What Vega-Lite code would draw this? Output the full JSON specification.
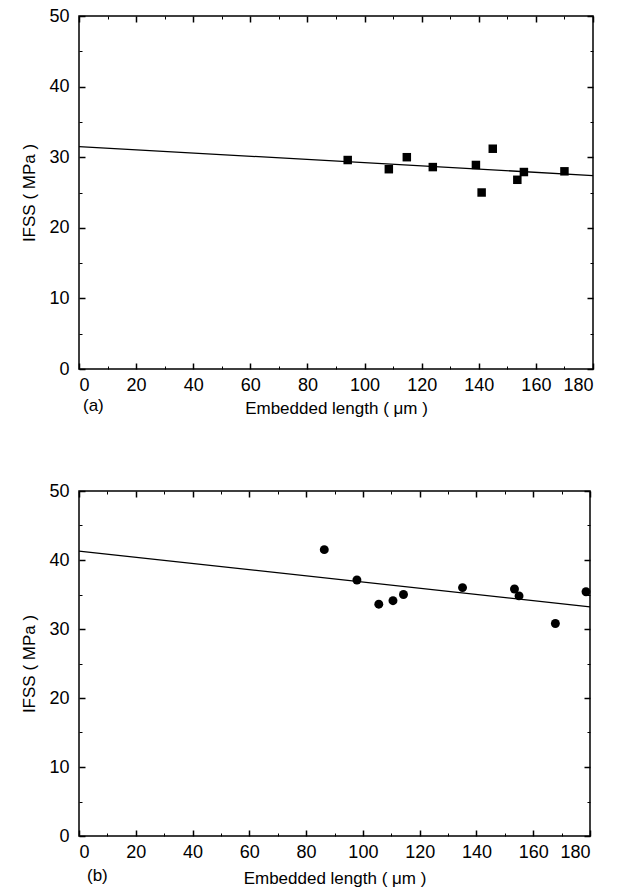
{
  "$schema": "https://vega.github.io/schema/vega-lite/v6.json",
  "padding": {"left": 20, "top": 6, "right": 20, "bottom": 3},
  "spacing": 64,
  "config": {
    "font": "Liberation Sans",
    "view": {"stroke": "black", "strokeWidth": 1.5},
    "axis": {"grid": false, "domain": false, "tickColor": "black", "labelColor": "black", "titleColor": "black", "labelFontSize": 18, "titleFontSize": 17, "titleFontWeight": "normal", "labelFont": "Liberation Sans", "titleFont": "Liberation Sans"},
    "title": {"font": "Liberation Sans", "fontSize": 17, "fontWeight": "normal", "color": "black"}
  },
  "datasets": {
    "a_points": [
      {"length": 94.1, "ifss": 29.6},
      {"length": 108.5, "ifss": 28.3},
      {"length": 114.8, "ifss": 30.0},
      {"length": 123.9, "ifss": 28.6},
      {"length": 139.0, "ifss": 28.9},
      {"length": 141.0, "ifss": 25.0},
      {"length": 144.9, "ifss": 31.2},
      {"length": 153.5, "ifss": 26.8},
      {"length": 155.8, "ifss": 27.9},
      {"length": 170.0, "ifss": 28.0}
    ],
    "a_fit": [
      {"length": 0, "ifss": 31.5},
      {"length": 180, "ifss": 27.4}
    ],
    "b_points": [
      {"length": 86.4, "ifss": 41.5},
      {"length": 97.9, "ifss": 37.1},
      {"length": 105.6, "ifss": 33.6},
      {"length": 110.6, "ifss": 34.1},
      {"length": 114.3, "ifss": 35.0},
      {"length": 135.1, "ifss": 36.0},
      {"length": 153.4, "ifss": 35.8},
      {"length": 155.0, "ifss": 34.8},
      {"length": 167.8, "ifss": 30.8},
      {"length": 178.6, "ifss": 35.4}
    ],
    "b_fit": [
      {"length": 0, "ifss": 41.3},
      {"length": 180, "ifss": 33.2}
    ]
  },
  "vconcat": [
    {
      "width": 514,
      "height": 353,
      "title": {"text": "(a)", "orient": "bottom", "anchor": "start", "offset": -18, "dx": 62},
      "resolve": {"axis": {"x": "independent", "y": "independent"}},
      "layer": [
        {
          "data": {"name": "a_points"},
          "mark": {"type": "square", "filled": true, "color": "black", "size": 72, "opacity": 1},
          "encoding": {
            "x": {"field": "length", "type": "quantitative", "scale": {"domain": [0, 180], "nice": false, "zero": false},
              "axis": {"orient": "bottom", "values": [0, 20, 40, 60, 80, 100, 120, 140, 160, 180], "tickSize": -6, "tickWidth": 1.5, "labelPadding": 13, "title": "Embedded length ( μm )", "titlePadding": 6}},
            "y": {"field": "ifss", "type": "quantitative", "scale": {"domain": [0, 50], "nice": false},
              "axis": {"orient": "left", "values": [0, 10, 20, 30, 40, 50], "tickSize": -6, "tickWidth": 1.5, "labelPadding": 16, "title": "IFSS ( MPa )", "titlePadding": 10}}
          }
        },
        {
          "data": {"name": "a_fit"},
          "mark": {"type": "line", "color": "black", "strokeWidth": 1.3},
          "encoding": {
            "x": {"field": "length", "type": "quantitative", "scale": {"domain": [0, 180], "nice": false, "zero": false},
              "axis": {"orient": "top", "values": [0, 20, 40, 60, 80, 100, 120, 140, 160, 180], "tickSize": -6, "tickWidth": 1.5, "labels": false, "title": null}},
            "y": {"field": "ifss", "type": "quantitative", "scale": {"domain": [0, 50], "nice": false},
              "axis": {"orient": "right", "values": [0, 10, 20, 30, 40, 50], "tickSize": -6, "tickWidth": 1.5, "labels": false, "title": null}}
          }
        },
        {
          "data": {"name": "a_points"},
          "mark": {"type": "point", "opacity": 0},
          "encoding": {
            "x": {"field": "length", "type": "quantitative", "scale": {"domain": [0, 180], "nice": false, "zero": false},
              "axis": {"orient": "bottom", "values": [10, 30, 50, 70, 90, 110, 130, 150, 170], "tickSize": -3, "tickWidth": 1, "labels": false, "title": null}},
            "y": {"field": "ifss", "type": "quantitative", "scale": {"domain": [0, 50], "nice": false},
              "axis": {"orient": "left", "values": [5, 15, 25, 35, 45], "tickSize": -3, "tickWidth": 1, "labels": false, "title": null}}
          }
        },
        {
          "data": {"name": "a_points"},
          "mark": {"type": "point", "opacity": 0},
          "encoding": {
            "x": {"field": "length", "type": "quantitative", "scale": {"domain": [0, 180], "nice": false, "zero": false},
              "axis": {"orient": "top", "values": [10, 30, 50, 70, 90, 110, 130, 150, 170], "tickSize": -3, "tickWidth": 1, "labels": false, "title": null}},
            "y": {"field": "ifss", "type": "quantitative", "scale": {"domain": [0, 50], "nice": false},
              "axis": {"orient": "right", "values": [5, 15, 25, 35, 45], "tickSize": -3, "tickWidth": 1, "labels": false, "title": null}}
          }
        }
      ]
    },
    {
      "width": 511,
      "height": 345,
      "title": {"text": "(b)", "orient": "bottom", "anchor": "start", "offset": -18, "dx": 66},
      "resolve": {"axis": {"x": "independent", "y": "independent"}},
      "layer": [
        {
          "data": {"name": "b_points"},
          "mark": {"type": "circle", "color": "black", "size": 80, "opacity": 1},
          "encoding": {
            "x": {"field": "length", "type": "quantitative", "scale": {"domain": [0, 180], "nice": false, "zero": false},
              "axis": {"orient": "bottom", "values": [0, 20, 40, 60, 80, 100, 120, 140, 160, 180], "tickSize": -6, "tickWidth": 1.5, "labelPadding": 13, "title": "Embedded length ( μm )", "titlePadding": 9}},
            "y": {"field": "ifss", "type": "quantitative", "scale": {"domain": [0, 50], "nice": false},
              "axis": {"orient": "left", "values": [0, 10, 20, 30, 40, 50], "tickSize": -6, "tickWidth": 1.5, "labelPadding": 16, "title": "IFSS ( MPa )", "titlePadding": 10}}
          }
        },
        {
          "data": {"name": "b_fit"},
          "mark": {"type": "line", "color": "black", "strokeWidth": 1.3},
          "encoding": {
            "x": {"field": "length", "type": "quantitative", "scale": {"domain": [0, 180], "nice": false, "zero": false},
              "axis": {"orient": "top", "values": [0, 20, 40, 60, 80, 100, 120, 140, 160, 180], "tickSize": -6, "tickWidth": 1.5, "labels": false, "title": null}},
            "y": {"field": "ifss", "type": "quantitative", "scale": {"domain": [0, 50], "nice": false},
              "axis": {"orient": "right", "values": [0, 10, 20, 30, 40, 50], "tickSize": -6, "tickWidth": 1.5, "labels": false, "title": null}}
          }
        },
        {
          "data": {"name": "b_points"},
          "mark": {"type": "point", "opacity": 0},
          "encoding": {
            "x": {"field": "length", "type": "quantitative", "scale": {"domain": [0, 180], "nice": false, "zero": false},
              "axis": {"orient": "bottom", "values": [10, 30, 50, 70, 90, 110, 130, 150, 170], "tickSize": -3, "tickWidth": 1, "labels": false, "title": null}},
            "y": {"field": "ifss", "type": "quantitative", "scale": {"domain": [0, 50], "nice": false},
              "axis": {"orient": "left", "values": [5, 15, 25, 35, 45], "tickSize": -3, "tickWidth": 1, "labels": false, "title": null}}
          }
        },
        {
          "data": {"name": "b_points"},
          "mark": {"type": "point", "opacity": 0},
          "encoding": {
            "x": {"field": "length", "type": "quantitative", "scale": {"domain": [0, 180], "nice": false, "zero": false},
              "axis": {"orient": "top", "values": [10, 30, 50, 70, 90, 110, 130, 150, 170], "tickSize": -3, "tickWidth": 1, "labels": false, "title": null}},
            "y": {"field": "ifss", "type": "quantitative", "scale": {"domain": [0, 50], "nice": false},
              "axis": {"orient": "right", "values": [5, 15, 25, 35, 45], "tickSize": -3, "tickWidth": 1, "labels": false, "title": null}}
          }
        }
      ]
    }
  ]
}
